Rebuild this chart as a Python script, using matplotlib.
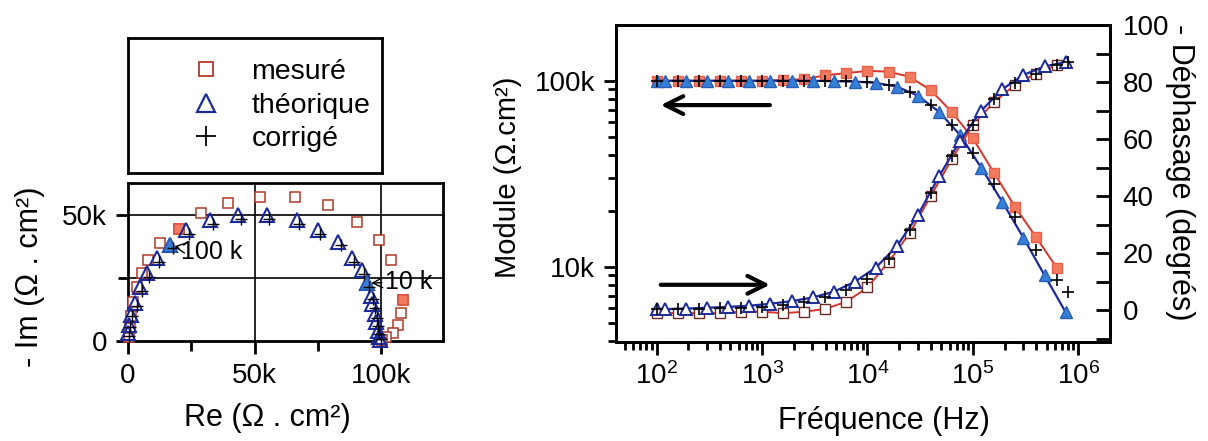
import matplotlib.pyplot as plt
from matplotlib.lines import Line2D
from matplotlib.ticker import FixedLocator, NullFormatter, LogLocator

plt.rcParams['font.family'] = ['Liberation Sans', 'DejaVu Sans']

# ---- Nyquist data (kOhm.cm2) ----
nyq_mes_re = [0.2, 0.6, 1.2, 2.0, 3.4, 5.5, 8.0, 12.6, 20.0, 29.0, 39.6, 52.0, 66.0, 79.0,
              90.4, 99.0, 104.0, 108.7, 108.0, 106.7, 104.8, 102.0, 100.5]
nyq_mes_im = [1.5, 5.0, 10.0, 15.5, 21.5, 27.0, 32.0, 38.8, 44.4, 50.8, 54.7, 57.2, 57.2, 54.0,
              47.3, 40.0, 32.0, 16.3, 11.0, 6.3, 3.2, 1.4, 0.5]
nyq_th_re = [0.1, 0.3, 1.0, 2.8, 4.7, 7.4, 11.3, 16.6, 23.0, 32.4, 43.5, 54.8, 66.6, 75.0,
             83.0, 88.4, 92.3, 94.3, 96.0, 96.6, 97.6, 98.0, 98.6, 99.0, 99.5]
nyq_th_im = [3.0, 6.3, 10.5, 15.0, 21.5, 27.0, 33.0, 38.0, 44.0, 48.0, 50.0, 50.0, 48.0, 44.0,
             39.4, 33.0, 28.0, 23.0, 18.0, 14.7, 10.7, 7.5, 4.0, 1.5, 0.5]
nyq_cor_re = [0.5, 0.8, 1.5, 3.5, 5.5, 8.3, 12.3, 17.6, 24.0, 33.4, 44.5, 55.8, 67.5, 76.0,
              84.0, 89.4, 93.2, 95.3, 96.8, 97.5, 98.3, 98.8, 99.3, 99.8]
nyq_cor_im = [2.0, 5.5, 10.0, 14.0, 20.0, 25.5, 31.5, 37.0, 42.5, 46.5, 48.5, 48.5, 46.5, 42.5,
              38.0, 31.5, 26.5, 21.5, 16.5, 13.2, 9.2, 6.0, 2.8, 0.8]
# points at 100 kHz and 10 kHz (filled)
nyq_mes_hl_re = [20.0, 108.7]
nyq_mes_hl_im = [44.4, 16.3]
nyq_th_hl_re = [16.6, 94.3]
nyq_th_hl_im = [38.0, 23.0]

# ---- Bode data ----
freq_mes = [100, 158, 251, 398, 631, 1000, 1585, 2512, 3981, 6310, 10000, 15850, 25120,
            39810, 63100, 100000, 158500, 251200, 398100, 631000]
mod_mes = [100, 100, 100, 100, 100, 100, 101, 102, 107, 110, 113, 112, 105, 89, 68, 49, 32,
           21, 14.4, 9.8]
phase_mes = [-1, -1, -1, -1, -0.5, -0.5, -1, -0.5, 0.5, 3, 8, 17, 27, 40, 53, 65, 73, 79, 83, 86]

freq_th = [100, 120, 190, 302, 479, 759, 1202, 1905, 3020, 4786, 7586, 12020, 19050, 30200,
           47860, 75860, 120200, 190500, 302000, 478600, 758600]
mod_th = [100, 100, 100, 100, 100, 100, 100, 100, 100, 99.5, 99, 97.5, 93, 83, 68, 51, 34,
          22.3, 14.3, 9.0, 5.7]
phase_th = [0.3, 0.4, 0.6, 0.9, 1.2, 1.6, 2.3, 3.2, 4.5, 6.5, 10, 15, 22.5, 33.5, 47, 59.5,
            70, 77.5, 82.5, 85.5, 87]

freq_cor = [100, 158, 251, 398, 631, 1000, 1585, 2512, 3981, 6310, 10000, 15850, 25120,
            39810, 63100, 100000, 158500, 251200, 398100, 631000, 794300]
mod_cor = [100, 100, 100, 100, 100, 100, 100, 100, 100, 100, 98, 95, 87, 74.5, 57.5, 41, 28,
           18.5, 12.3, 8.5, 7.3]
phase_cor = [0.5, 0.5, 0.5, 0.7, 0.8, 1.2, 2, 3, 4.7, 7, 11, 18, 28, 41, 54, 65, 74, 79.5,
             83, 86, 87]

RED_EDGE = '#b03a2a'
NAVY = '#1c2a9a'
SALMON = '#f27a5e'
BLUE_FILL = '#3580d4'
TICK_FS = 20
LABEL_FS = 22

fig = plt.figure(figsize=(12.08, 4.41), dpi=100)

# ================= Nyquist =================
ax1 = fig.add_axes([0.106, 0.2268, 0.2608, 0.3583])
ax1.plot(nyq_mes_re, nyq_mes_im, 's', ms=7.5, mfc='white', mec=RED_EDGE, mew=1.1,
         clip_on=False, zorder=3, label='mesuré')
ax1.plot(nyq_mes_hl_re, nyq_mes_hl_im, 's', ms=7.5, mfc=SALMON, mec='#e05040', mew=1.1,
         clip_on=False, zorder=3)
ax1.plot(nyq_th_re, nyq_th_im, '^', ms=10, mfc='none', mec=NAVY, mew=1.5,
         clip_on=False, zorder=4, label='théorique')
ax1.plot(nyq_th_hl_re, nyq_th_hl_im, '^', ms=10, mfc=BLUE_FILL, mec='#2a5fb8', mew=1.2,
         clip_on=False, zorder=4)
ax1.plot(nyq_cor_re, nyq_cor_im, '+', ms=9, color='black', mew=1.0,
         clip_on=False, zorder=5, label='corrigé')

ax1.set_xlim(0, 124.5)
ax1.set_ylim(0, 62.7)
for v in [50, 100]:
    ax1.axvline(v, color='black', lw=1.2, zorder=1)
for v in [25, 50]:
    ax1.axhline(v, color='black', lw=1.2, zorder=1)

ax1.xaxis.set_major_locator(FixedLocator([0, 50, 100]))
ax1.xaxis.set_minor_locator(FixedLocator([25, 75]))
ax1.set_xticklabels(['0', '50k', '100k'])
ax1.yaxis.set_major_locator(FixedLocator([0, 50]))
ax1.yaxis.set_minor_locator(FixedLocator([25]))
ax1.set_yticklabels(['0', '50k'])
ax1.tick_params(which='both', direction='out', width=2, labelsize=TICK_FS)
ax1.tick_params(which='major', length=9, pad=6)
ax1.tick_params(which='minor', length=7)
ax1.tick_params(axis='x', which='major', pad=7)
for s in ax1.spines.values():
    s.set_linewidth(2)

ax1.annotate('100 k', xy=(17.5, 37.6), xytext=(21.0, 35.3), fontsize=18,
             ha='left', va='center',
             arrowprops=dict(arrowstyle='->', lw=1.0, color='black', shrinkA=0, shrinkB=1))
ax1.annotate('10 k', xy=(95.5, 23.0), xytext=(101.4, 23.4), fontsize=18,
             ha='left', va='center',
             arrowprops=dict(arrowstyle='->', lw=1.0, color='black', shrinkA=0, shrinkB=1))

fig.text(30 / 1208, 1 - 277 / 441, '- Im (Ω . cm²)', rotation=90, fontsize=LABEL_FS,
         ha='center', va='center')
fig.text(267 / 1208, 1 - 418 / 441, 'Re (Ω . cm²)', fontsize=LABEL_FS,
         ha='center', va='center')

# legend box above the Nyquist plot
ax_leg = fig.add_axes([0.106, 0.6077, 0.2103, 0.306])
ax_leg.set_xticks([])
ax_leg.set_yticks([])
for s in ax_leg.spines.values():
    s.set_linewidth(2)
handles = [Line2D([], [], ls='none', marker='s', ms=10, mfc='white', mec=RED_EDGE, mew=1.3),
           Line2D([], [], ls='none', marker='^', ms=13, mfc='none', mec=NAVY, mew=1.6),
           Line2D([], [], ls='none', marker='+', ms=14, color='black', mew=1.3)]
ax_leg.legend(handles, ['mesuré', 'théorique', 'corrigé'], loc='center left',
              bbox_to_anchor=(0.15, 0.5), frameon=False, fontsize=20.5,
              handlelength=1.0, handletextpad=1.1, labelspacing=0.25, borderpad=0.4)

# ================= Bode =================
ax2 = fig.add_axes([0.5099, 0.2252, 0.4089, 0.7181])
ax2.set_xscale('log')
ax2.set_yscale('log')
ax2.plot(freq_mes, mod_mes, '-', color='#d83428', lw=1.4, marker='s', ms=7,
         mfc=SALMON, mec='#e8604a', mew=1.0, zorder=3)
ax2.plot(freq_th, mod_th, '-', color=NAVY, lw=1.6, marker='^', ms=9,
         mfc=BLUE_FILL, mec='#2a5fb8', mew=1.0, zorder=4)
ax2.plot(freq_cor, mod_cor, '+', color='black', ms=9, mew=1.2, zorder=5)

ax2.set_xlim(41.1, 1.995e6)
ax2.set_ylim(3.955, 199.5)
ax2.yaxis.set_major_locator(FixedLocator([10, 100]))
ax2.set_yticklabels(['10k', '100k'])
ax2.yaxis.set_minor_locator(LogLocator(base=10, subs=(2, 3, 4, 5, 6, 7, 8, 9)))
ax2.yaxis.set_minor_formatter(NullFormatter())
ax2.xaxis.set_major_locator(LogLocator(base=10, numticks=10))
ax2.xaxis.set_minor_locator(LogLocator(base=10, subs=(2, 3, 4, 5, 6, 7, 8, 9), numticks=20))
ax2.xaxis.set_minor_formatter(NullFormatter())
ax2.tick_params(which='both', direction='out', width=2, labelsize=TICK_FS, right=False)
ax2.tick_params(which='major', length=9, pad=6)
ax2.tick_params(which='minor', length=5.5)
for s in ax2.spines.values():
    s.set_linewidth(2)

ax2.annotate('', xy=(103, 74), xytext=(1260, 74),
             arrowprops=dict(arrowstyle='->', lw=3, color='black', mutation_scale=32))
ax2.annotate('', xy=(1260, 8.0), xytext=(103, 8.0),
             arrowprops=dict(arrowstyle='->', lw=3, color='black', mutation_scale=32))

ax3 = ax2.twinx()
ax3.plot(freq_mes, phase_mes, '-', color='#d83428', lw=1.4, marker='s', ms=7,
         mfc='white', mec='#6b2a22', mew=1.0, zorder=3)
ax3.plot(freq_th, phase_th, '-', color=NAVY, lw=1.6, marker='^', ms=9,
         mfc='white', mec=NAVY, mew=1.4, zorder=4)
ax3.plot(freq_cor, phase_cor, '+', color='black', ms=9, mew=1.2, zorder=5)
ax3.set_ylim(-11, 100)
ax3.yaxis.set_major_locator(FixedLocator([0, 20, 40, 60, 80, 100]))
ax3.yaxis.set_minor_locator(FixedLocator([-10, 10, 30, 50, 70, 90]))
ax3.tick_params(which='both', direction='in', width=2, length=10, labelsize=TICK_FS, pad=9)
for s in ax3.spines.values():
    s.set_linewidth(2)

fig.text(508 / 1208, 1 - 177 / 441, 'Module (Ω.cm²)', rotation=90, fontsize=LABEL_FS - 1,
         ha='center', va='center')
fig.text(1180 / 1208, 1 - 172 / 441, '- Déphasage (degrés)', rotation=270,
         fontsize=LABEL_FS, ha='center', va='center')
fig.text(884 / 1208, 1 - 421 / 441, 'Fréquence (Hz)', fontsize=LABEL_FS,
         ha='center', va='center')

fig.savefig('out.png', dpi=100)
